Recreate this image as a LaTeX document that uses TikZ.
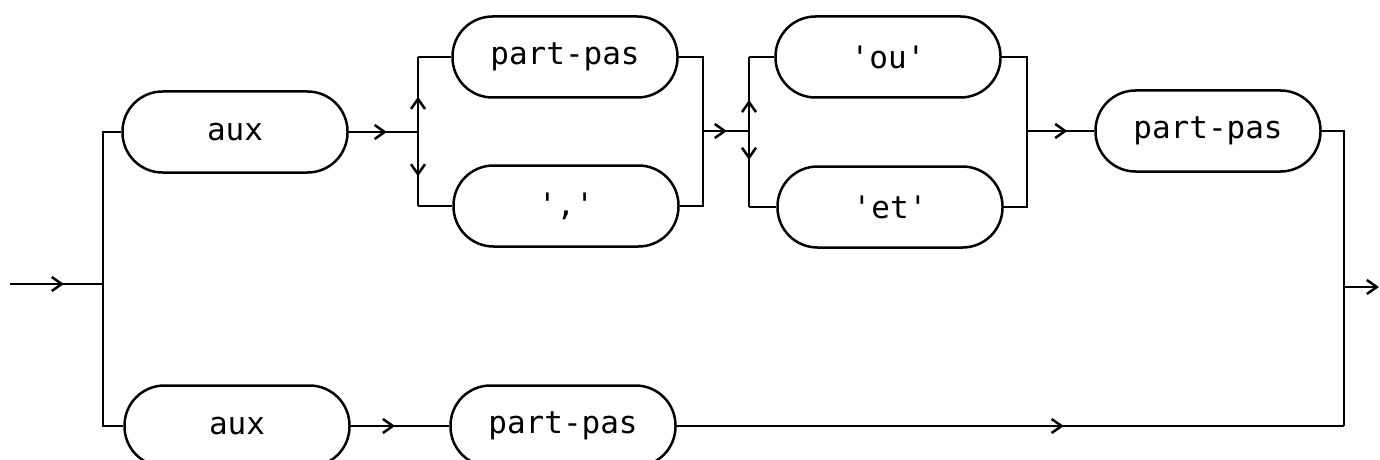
\documentclass[tikz,border=0pt]{standalone}
\usepackage{fontspec}
\setmonofont{DejaVu Sans Mono}
\usetikzlibrary{arrows.meta,decorations.markings}
\begin{document}
\begin{tikzpicture}[x=0.5pt,y=-0.5pt,
  box/.style={draw,line width=1.25pt,rounded corners=20pt,minimum width=112.5pt,
    minimum height=40.5pt,inner sep=0pt,font=\ttfamily\fontsize{15.5}{16}\selectfont},
  ln/.style={line width=1.25pt},
  marr/.style={postaction={decorate},decoration={markings,
    mark=at position #1 with {\arrow{Straight Barb[length=5pt,width=7pt,line width=1.25pt]}}}}]
\useasboundingbox (0,0) rectangle (1380,460);
% boxes
\node[box] (aux1) at (235,132) {aux};
\node[box] (pp1)  at (565,57)  {part-pas};
\node[box] (cm)   at (566,206) {','};
\node[box] (ou)   at (888,57)  {'ou'};
\node[box] (et)   at (890,207) {'et'};
\node[box] (pp2)  at (1208,131) {part-pas};
\node[box] (aux2) at (237,426) {aux};
\node[box] (pp3)  at (563,426) {part-pas};
% junction points
\coordinate (in)  at (10,284);
\coordinate (j0)  at (103,284);
\coordinate (j1)  at (418,132);
\coordinate (j2)  at (703,131);
\coordinate (j3)  at (749,131);
\coordinate (j4)  at (1027,131);
\coordinate (j5)  at (1344,287);
\coordinate (out) at (1379,287);
% entry and split
\draw[ln,marr=0.58] (in) -- (j0);
\draw[ln] (aux1.west) -| (j0) |- (aux2.west);
% upper path
\draw[ln,marr=0.55] (aux1.east) -- (j1);
\draw[ln,marr=0.47] (j1) -- (j1 |- pp1.west);
\draw[ln] (j1 |- pp1.west) -- (pp1.west);
\draw[ln,marr=0.6] (j1) -- (j1 |- cm.west);
\draw[ln] (j1 |- cm.west) -- (cm.west);
\draw[ln] (pp1.east) -| (j2) |- (cm.east);
\draw[ln,marr=0.52] (j2) -- (j3);
\draw[ln,marr=0.42] (j3) -- (j3 |- ou.west);
\draw[ln] (j3 |- ou.west) -- (ou.west);
\draw[ln,marr=0.38] (j3) -- (j3 |- et.west);
\draw[ln] (j3 |- et.west) -- (et.west);
\draw[ln] (ou.east) -| (j4) |- (et.east);
\draw[ln,marr=0.6] (j4) -- (pp2.west);
\draw[ln] (pp2.east) -| (j5 |- pp3.east);
% lower path
\draw[ln,marr=0.45] (aux2.east) -- (pp3.west);
\draw[ln,marr=0.58] (pp3.east) -- (j5 |- pp3.east);
% exit
\draw[ln,-{Straight Barb[length=5pt,width=7pt,line width=1.25pt]}] (j5) -- (out);
\end{tikzpicture}
\end{document}
